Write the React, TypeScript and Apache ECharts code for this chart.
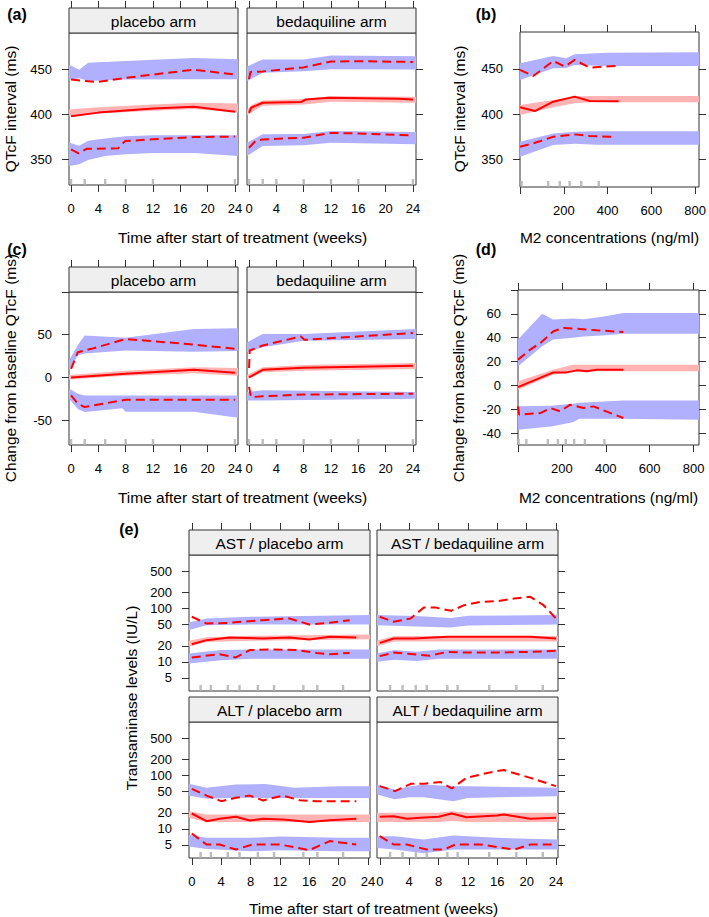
import React, { useEffect, useRef } from 'react';
import * as echarts from 'echarts';

const FONT = '"Liberation Sans", Arial, Helvetica, sans-serif';
const RED = '#ff0000';
const BLUE_BAND = '#b0b0ff';
const PINK_BAND = '#ffb3b3';
const RUG = '#bdbdbd';
const FRAME = '#333333';
const STRIP_BG = '#efefef';

// ---------- tick values ----------
const weekTicks = [0, 4, 8, 12, 16, 20, 24];
const concTicks = [0, 200, 400, 600, 800];
const concLabels = [200, 400, 600, 800];
const qtcTicks = [350, 400, 450];
const dqtcTicks = [-50, 0, 50, 100];
const dqtcLabels = [-50, 0, 50];
const dqtcConcTicks = [-40, -20, 0, 20, 40, 60, 80];
const dqtcConcLabels = [-40, -20, 0, 20, 40, 60];
const transTicks = [5, 10, 20, 50, 100, 200, 500];

// ---------- text ----------
const stripPlacebo = 'placebo arm';
const stripBeda = 'bedaquiline arm';
const stripASTp = 'AST / placebo arm';
const stripASTb = 'AST / bedaquiline arm';
const stripALTp = 'ALT / placebo arm';
const stripALTb = 'ALT / bedaquiline arm';
const xTitleTime = 'Time after start of treatment (weeks)';
const xTitleConc = 'M2 concentrations (ng/ml)';
const yTitleQtc = 'QTcF interval (ms)';
const yTitleDqtc = 'Change from baseline QTcF (ms)';
const yTitleTrans = 'Transaminase levels (IU/L)';

// ---------- (a) QTcF vs time ----------
const aP_obsMed = [[0, 398], [4, 402], [12, 406.5], [18, 408.5], [24, 403]];
const aP_obsHi = [[0, 438.5], [1.3, 437.5], [3.8, 435.7], [8, 440.4], [12, 444], [18, 449.5], [24, 444]];
const aP_obsLo = [[0, 361.5], [1.1, 357], [2.3, 362], [6.9, 362.5], [7.9, 370.5], [12, 372.5], [18, 375], [24, 375.5]];
const aP_bandMed = [[-0.3, 398, 405.5], [4, 401, 408], [12, 404, 411], [18, 406, 413], [24.45, 402, 412]];
const aP_bandHi = [[-0.3, 438, 455], [1.2, 440, 449.5], [2.5, 437, 457], [8, 438.5, 459], [18, 439, 462.5], [24.45, 439, 461]];
const aP_bandLo = [[-0.3, 343, 369], [1.2, 345, 365.5], [2.5, 349.5, 371], [5, 354, 373.5], [8, 356, 376], [12, 357.5, 377], [18, 357.5, 377], [24.45, 354, 377]];
const aB_obsMed = [[0, 401.8], [0.3, 407.4], [2, 412.9], [7.6, 413.6], [8.3, 416.5], [11.7, 418.4], [21.9, 417.3], [24, 416.5]];
const aB_obsHi = [[0, 439], [0.2, 447], [2, 447.5], [8, 452], [12, 458.5], [16, 458.8], [24, 458]];
const aB_obsLo = [[0, 363.2], [1, 371], [2, 372.4], [8, 374.3], [12, 379.5], [16, 379], [24, 376.8]];
const aB_bandMed = [[-0.3, 399, 405], [0.5, 403, 411], [2, 409.5, 415.5], [8, 411, 417], [12, 414, 420], [24.45, 413, 419.5]];
const aB_bandHi = [[-0.3, 436.8, 453], [2, 446, 460.7], [8, 447.8, 460.7], [12, 450, 465], [24.45, 449.6, 464.3]];
const aB_bandLo = [[-0.3, 354, 368.8], [2, 365, 378], [8, 366, 378.5], [12, 368.8, 381.6], [24.45, 367, 380.5]];
const rugWeeksP = [0, 2, 5, 8, 12, 24];
const rugWeeksB = [0, 2, 4, 8, 12, 16, 24];

// ---------- (b) QTcF vs M2 ----------
const b_obsMed = [[0, 407.4], [68, 403.3], [152, 413.7], [250, 419.3], [318, 414.4], [451, 414.1]];
const b_obsHi = [[0, 448.9], [61, 442.2], [152, 458.9], [205, 452.6], [250, 460], [318, 451.5], [436, 453.3]];
const b_obsLo = [[0, 363.7], [61, 367.4], [152, 374.8], [250, 377.4], [318, 375.6], [417, 374.8]];
const b_bandMed = [[0, 399, 410], [152, 407.5, 415.5], [250, 412, 419.3], [330, 413, 420], [818, 413, 420]];
const b_bandHi = [[0, 437.8, 456.3], [152, 450.7, 464.4], [210, 451, 462], [250, 454.4, 466.3], [400, 453.3, 468], [818, 453.3, 468.5]];
const b_bandLo = [[0, 352.6, 369.3], [152, 365.6, 378.5], [250, 367, 380.4], [350, 366, 381], [818, 366, 381]];
const b_rug = [7.6, 129, 182, 227, 280, 360];

// ---------- (c) dQTcF vs time ----------
const cP_obsMed = [[0, 0], [8, 4.3], [18, 9], [24, 5.4]];
const cP_obsHi = [[0, 10], [1, 29.6], [3, 33.5], [8, 45], [18, 38.5], [24, 33.5]];
const cP_obsLo = [[0, -21], [1, -30.7], [2, -34.6], [8, -26], [24, -26]];
const cP_bandMed = [[-0.3, -2.5, 3], [8, 2, 8], [18, 5, 12], [24.45, 2, 11]];
const cP_bandHi = [[-0.3, 8, 20], [1, 26, 38], [2, 28, 49], [8, 31.5, 46.5], [18, 30, 56.8], [24.45, 31, 57.6]];
const cP_bandLo = [[-0.3, -25, -13], [1, -37, -19], [2, -40.5, -21], [7.5, -36, -21], [8, -40, -21], [18, -40, -21], [24.45, -47, -21]];
const cB_obsMed = [[0, 0], [2, 9], [8, 11.3], [24, 13.6]];
const cB_obsHi = [[0, 11], [0.1, 31.5], [2, 37.4], [7.6, 47.9], [8.1, 44], [21.9, 51], [24, 52]];
const cB_obsLo = [[0, -11], [0.3, -23], [2, -22], [8, -20], [24, -19]];
const cB_bandMed = [[-0.3, -2, 3], [2, 6, 12], [8, 8, 14.5], [24.45, 10, 17]];
const cB_bandHi = [[-0.3, 29.6, 41], [2, 35.4, 51], [8, 43, 51], [24.45, 45, 56.8]];
const cB_bandLo = [[-0.3, -27, -17], [2, -27, -15], [24.45, -25, -17]];

// ---------- (d) dQTcF vs M2 ----------
const d_obsMed = [[0, -1.4], [117, 7.6], [162, 10.9], [223, 10.9], [268, 12.6], [314, 11.8], [359, 13.2], [480, 13.2]];
const d_obsHi = [[0, 21.6], [56, 30], [102, 35.6], [162, 45.4], [208, 48.2], [283, 47.3], [359, 46.2], [480, 44.8]];
const d_obsLo = [[0, -17.6], [5, -24.6], [56, -23.8], [102, -23.2], [147, -19], [192, -21.8], [238, -16.2], [298, -19], [344, -17.6], [480, -27.4]];
const d_bandMed = [[0, -3.6, 3.4], [160, 9, 13.2], [250, 11.8, 17.4], [825, 11.8, 17.4]];
const d_bandHi = [[0, 16, 38.4], [110, 32.8, 60], [160, 38.4, 55.2], [250, 40, 56], [300, 41, 55.5], [400, 42, 58], [480, 43.4, 60.8], [825, 43.4, 60.8]];
const d_bandLo = [[0, -37.3, -17.6], [150, -34.5, -17], [250, -31, -15.5], [280, -28, -14.5], [480, -28, -12.6], [825, -28.9, -12.6]];
const d_rug = [3, 38, 136, 182, 218, 256, 305, 394];

// ---------- (e) transaminases ----------
const eASTp_obsMed = [[0, 21.4], [2, 25.5], [5.1, 28.6], [9.7, 27.4], [13.3, 28.6], [16, 26.2], [18.8, 29.4], [22.4, 28.6]];
const eASTp_obsHi = [[0, 69.9], [2, 52.3], [5.1, 53.8], [9.7, 60.4], [13.3, 64.9], [16, 50.1], [18.8, 53.8], [21.5, 60.4]];
const eASTp_obsLo = [[0, 12.1], [3.8, 13.9], [6, 12.1], [7.9, 16.6], [11, 17.1], [14.2, 16.6], [17, 14.7], [18.8, 13.9], [21.5, 14.7]];
const eASTp_bandMed = [[-0.4, 19.1, 24.8], [2, 23.5, 29], [8, 24.8, 30.7], [24.27, 26.6, 32.6]];
const eASTp_bandHi = [[-0.4, 39.3, 54.6], [2, 48.7, 64.9], [8, 50, 70], [24.27, 50, 75]];
const eASTp_bandLo = [[-0.4, 9.3, 14.3], [4, 10.7, 16.6], [8, 11.5, 17.1], [24.27, 11.5, 17.1]];

const eASTb_obsMed = [[0, 22.7], [1.9, 27.4], [4.6, 27.4], [9.2, 29.4], [16, 29.4], [20.5, 29.4], [24, 27.4]];
const eASTb_obsHi = [[0, 69.9], [1.9, 56.2], [4.2, 64.9], [6, 104], [7.6, 104], [9.7, 90.2], [11.5, 115], [13.7, 133], [16, 137], [18.3, 153], [20.5, 165], [22.3, 115], [24, 64.9]];
const eASTb_obsLo = [[0, 12.8], [1.9, 14.9], [4.6, 13.9], [6.8, 13], [9.2, 15.4], [11.5, 14.9], [16, 14.9], [20.5, 15.4], [24, 16.1]];
const eASTb_bandMed = [[-0.38, 19.5, 25], [2, 24, 30.5], [24.27, 24, 30.5]];
const eASTb_bandHi = [[-0.38, 48.7, 75], [5, 46, 72], [9.7, 44, 66], [12, 48, 73], [24.27, 50, 75]];
const eASTb_bandLo = [[-0.38, 10, 14.3], [2, 11, 16.6], [5, 10.4, 15.4], [8, 11.5, 17], [24.27, 11.5, 17]];

const eALTp_obsMed = [[0, 19.4], [2, 13.9], [3.8, 15.4], [6, 16.8], [7.9, 14.3], [9.7, 15.4], [12.4, 14.9], [16, 13.4], [18.8, 14.5], [22.4, 15.4]];
const eALTp_obsHi = [[0, 56], [2, 42], [4, 33], [6, 38.1], [7.9, 42], [9.7, 34], [12.4, 42], [14.7, 34.4], [17, 33], [22.4, 33]];
const eALTp_obsLo = [[0, 8.2], [2, 5.1], [3.8, 5.1], [6, 4.1], [8.3, 5.1], [12, 5.1], [16, 4], [18.8, 5.9], [22.4, 5.1]];
const eALTp_bandMed = [[-0.4, 16.1, 21.4], [2, 13.4, 18.6], [24.27, 13.4, 18.6]];
const eALTp_bandHi = [[-0.4, 42, 69.8], [2, 36.5, 58.6], [6, 38.1, 67.8], [10, 38, 69], [14, 38, 58.6], [20, 38, 63], [24.27, 38, 63]];
const eALTp_bandLo = [[-0.4, 4.7, 7.8], [2, 4.2, 6.8], [8, 3.8, 6.8], [12, 4, 7.2], [20, 3.8, 6.8], [24.27, 3.8, 6.8]];

const eALTb_obsMed = [[0, 16.8], [1.9, 17.3], [3.7, 15.4], [5.5, 16.1], [8, 16.8], [9.8, 19.4], [11.8, 16.5], [15.9, 17.8], [16.9, 18.6], [20.5, 15.4], [24, 16.1]];
const eALTb_obsHi = [[0, 63], [2.1, 50.9], [4.2, 69.8], [6, 69.8], [8.3, 75], [9.8, 57], [11.8, 90], [13.7, 104], [15.9, 120], [16.9, 126], [20.5, 90], [24, 63]];
const eALTb_obsLo = [[0, 7.3], [1.9, 5.1], [3.7, 5.1], [6.4, 4.1], [8.7, 4.1], [10.3, 5.1], [13.7, 5.1], [18.3, 4.1], [20.5, 5.1], [24, 5.1]];
const eALTb_bandMed = [[-0.38, 13.4, 20], [8, 13.4, 20], [9.8, 14, 21.4], [12, 13.4, 20], [24.27, 13.4, 20]];
const eALTb_bandHi = [[-0.38, 44, 68], [2, 36, 54], [4, 39, 62], [6, 39, 68], [10, 33, 63], [12, 38, 63], [24.27, 41, 58.6]];
const eALTb_bandLo = [[-0.38, 4.4, 7.3], [2, 4.1, 7.3], [6, 3.5, 6.3], [10, 4.1, 7.5], [16, 4.1, 6.8], [24.27, 4.1, 6.3]];

const eRugP = [1.2, 2.6, 4.9, 6.5, 9, 11.2, 15.2, 17.1, 20.6];
const eRugB = [1.4, 3.1, 4.9, 6.4, 9.2, 10.6, 14.9, 18.6, 22.2];

// ---------- panel layout ----------
interface PanelCfg {
  rect: number[];
  x: number[];
  y: number[];
  xTicks: number[];
  xLabels: number[] | null;
  xBottomTicks: boolean;
  xTopTicks: boolean;
  yTicks: number[];
  yLabels: number[] | null;
  yLeftTicks: boolean;
  yRightTicks: boolean;
  strip?: string;
  log?: boolean;
  bandMed: number[][];
  bandHi: number[][];
  bandLo: number[][];
  obsMed: number[][];
  obsHi: number[][];
  obsLo: number[][];
  rug: number[];
}

const STRIP_H = 25;
const QTC_RANGE = [322, 490];
const WEEK_RANGE = [-0.3, 24.45];
const EWEEK_RANGE = [-0.38, 24.27];
const TRANS_RANGE = [2.85, 1000];

const panels: PanelCfg[] = [
  // (a)
  { rect: [69, 33, 169, 152], x: WEEK_RANGE, y: QTC_RANGE, xTicks: weekTicks, xLabels: weekTicks, xBottomTicks: true, xTopTicks: true,
    yTicks: qtcTicks, yLabels: qtcTicks, yLeftTicks: true, yRightTicks: false, strip: stripPlacebo,
    bandMed: aP_bandMed, bandHi: aP_bandHi, bandLo: aP_bandLo, obsMed: aP_obsMed, obsHi: aP_obsHi, obsLo: aP_obsLo, rug: rugWeeksP },
  { rect: [247, 33, 169, 152], x: WEEK_RANGE, y: QTC_RANGE, xTicks: weekTicks, xLabels: weekTicks, xBottomTicks: true, xTopTicks: true,
    yTicks: qtcTicks, yLabels: null, yLeftTicks: false, yRightTicks: true, strip: stripBeda,
    bandMed: aB_bandMed, bandHi: aB_bandHi, bandLo: aB_bandLo, obsMed: aB_obsMed, obsHi: aB_obsHi, obsLo: aB_obsLo, rug: rugWeeksB },
  // (b)
  { rect: [520, 32, 179, 155], x: [0, 818], y: [319, 491], xTicks: concTicks, xLabels: concLabels, xBottomTicks: true, xTopTicks: true,
    yTicks: qtcTicks, yLabels: qtcTicks, yLeftTicks: true, yRightTicks: true,
    bandMed: b_bandMed, bandHi: b_bandHi, bandLo: b_bandLo, obsMed: b_obsMed, obsHi: b_obsHi, obsLo: b_obsLo, rug: b_rug },
  // (c)
  { rect: [69, 292, 169, 153], x: WEEK_RANGE, y: [-79, 100], xTicks: weekTicks, xLabels: weekTicks, xBottomTicks: true, xTopTicks: true,
    yTicks: dqtcTicks, yLabels: dqtcLabels, yLeftTicks: true, yRightTicks: false, strip: stripPlacebo,
    bandMed: cP_bandMed, bandHi: cP_bandHi, bandLo: cP_bandLo, obsMed: cP_obsMed, obsHi: cP_obsHi, obsLo: cP_obsLo, rug: rugWeeksP },
  { rect: [247, 292, 169, 153], x: WEEK_RANGE, y: [-79, 100], xTicks: weekTicks, xLabels: weekTicks, xBottomTicks: true, xTopTicks: true,
    yTicks: dqtcTicks, yLabels: null, yLeftTicks: false, yRightTicks: true, strip: stripBeda,
    bandMed: cB_bandMed, bandHi: cB_bandHi, bandLo: cB_bandLo, obsMed: cB_obsMed, obsHi: cB_obsHi, obsLo: cB_obsLo, rug: rugWeeksB },
  // (d)
  { rect: [518, 290, 181, 155], x: [0, 825], y: [-50, 80], xTicks: concTicks, xLabels: concLabels, xBottomTicks: true, xTopTicks: true,
    yTicks: dqtcConcTicks, yLabels: dqtcConcLabels, yLeftTicks: true, yRightTicks: true,
    bandMed: d_bandMed, bandHi: d_bandHi, bandLo: d_bandLo, obsMed: d_obsMed, obsHi: d_obsHi, obsLo: d_obsLo, rug: d_rug },
  // (e) top row
  { rect: [189, 555, 181, 136], x: EWEEK_RANGE, y: TRANS_RANGE, log: true, xTicks: weekTicks, xLabels: null, xBottomTicks: false, xTopTicks: true,
    yTicks: transTicks, yLabels: transTicks, yLeftTicks: true, yRightTicks: false, strip: stripASTp,
    bandMed: eASTp_bandMed, bandHi: eASTp_bandHi, bandLo: eASTp_bandLo, obsMed: eASTp_obsMed, obsHi: eASTp_obsHi, obsLo: eASTp_obsLo, rug: eRugP },
  { rect: [377, 555, 181, 136], x: EWEEK_RANGE, y: TRANS_RANGE, log: true, xTicks: weekTicks, xLabels: null, xBottomTicks: false, xTopTicks: true,
    yTicks: transTicks, yLabels: null, yLeftTicks: false, yRightTicks: true, strip: stripASTb,
    bandMed: eASTb_bandMed, bandHi: eASTb_bandHi, bandLo: eASTb_bandLo, obsMed: eASTb_obsMed, obsHi: eASTb_obsHi, obsLo: eASTb_obsLo, rug: eRugB },
  // (e) bottom row
  { rect: [189, 722, 181, 136], x: EWEEK_RANGE, y: TRANS_RANGE, log: true, xTicks: weekTicks, xLabels: weekTicks, xBottomTicks: true, xTopTicks: false,
    yTicks: transTicks, yLabels: transTicks, yLeftTicks: true, yRightTicks: false, strip: stripALTp,
    bandMed: eALTp_bandMed, bandHi: eALTp_bandHi, bandLo: eALTp_bandLo, obsMed: eALTp_obsMed, obsHi: eALTp_obsHi, obsLo: eALTp_obsLo, rug: eRugP },
  { rect: [377, 722, 181, 136], x: EWEEK_RANGE, y: TRANS_RANGE, log: true, xTicks: weekTicks, xLabels: weekTicks, xBottomTicks: true, xTopTicks: false,
    yTicks: transTicks, yLabels: null, yLeftTicks: false, yRightTicks: true, strip: stripALTb,
    bandMed: eALTb_bandMed, bandHi: eALTb_bandHi, bandLo: eALTb_bandLo, obsMed: eALTb_obsMed, obsHi: eALTb_obsHi, obsLo: eALTb_obsLo, rug: eRugB },
];

function textEl(text: string, x: number, y: number, size: number, opts: { rot?: number; bold?: boolean } = {}) {
  return {
    type: 'text',
    x,
    y,
    rotation: opts.rot || 0,
    silent: true,
    z: 10,
    style: {
      text,
      fill: '#000',
      font: `${opts.bold ? 'bold ' : ''}${size}px ${FONT}`,
      align: 'center',
      verticalAlign: 'middle',
      textAlign: 'center',
      textVerticalAlign: 'middle',
    },
  };
}

function buildOption() {
  const grid: any[] = [];
  const xAxis: any[] = [];
  const yAxis: any[] = [];
  const series: any[] = [];
  const graphic: any[] = [];

  const tickStyle = { color: FRAME, width: 1 };
  const labelBase = { fontSize: 13, color: '#000', fontFamily: FONT };

  panels.forEach((p, i) => {
    const [left, top, width, height] = p.rect;
    const t = (v: number) => (p.log ? Math.log10(v) : v);
    const fmt = (v: number) => (p.log ? String(Math.round(Math.pow(10, v))) : String(v));

    grid.push({ left, top, width, height, show: true, borderColor: FRAME, borderWidth: 1, backgroundColor: 'transparent' });

    xAxis.push({
      type: 'value', gridIndex: i, position: 'bottom', min: p.x[0], max: p.x[1],
      axisLine: { show: false, onZero: false },
      axisTick: { show: p.xBottomTicks, length: 7, lineStyle: tickStyle, customValues: p.xTicks },
      axisLabel: { show: !!p.xLabels, customValues: p.xLabels || [], margin: 17, ...labelBase, formatter: (v: number) => String(v) },
      splitLine: { show: false },
    });
    xAxis.push({
      type: 'value', gridIndex: i, position: 'top', offset: p.strip ? STRIP_H : 0, min: p.x[0], max: p.x[1],
      axisLine: { show: false, onZero: false },
      axisTick: { show: p.xTopTicks, length: 7, lineStyle: tickStyle, customValues: p.xTicks },
      axisLabel: { show: false },
      splitLine: { show: false },
    });
    const yT = p.yTicks.map(t);
    yAxis.push({
      type: 'value', gridIndex: i, position: 'left', min: t(p.y[0]), max: t(p.y[1]),
      axisLine: { show: false, onZero: false },
      axisTick: { show: p.yLeftTicks, length: 7, lineStyle: tickStyle, customValues: yT },
      axisLabel: { show: !!p.yLabels, customValues: (p.yLabels || []).map(t), margin: 17, ...labelBase, formatter: fmt },
      splitLine: { show: false },
    });
    yAxis.push({
      type: 'value', gridIndex: i, position: 'right', min: t(p.y[0]), max: t(p.y[1]),
      axisLine: { show: false, onZero: false },
      axisTick: { show: p.yRightTicks, length: 7, lineStyle: tickStyle, customValues: yT },
      axisLabel: { show: false },
      splitLine: { show: false },
    });

    const xi = 2 * i;
    const yi = 2 * i;

    const band = (rows: number[][], color: string) => {
      const tr = rows.map((r) => [r[0], t(r[1]), t(r[2])]);
      return {
        type: 'custom', xAxisIndex: xi, yAxisIndex: yi, silent: true, z: 2,
        data: tr,
        renderItem: (params: any, api: any) => {
          if (params.dataIndex !== 0) return null;
          const upper = tr.map((r) => api.coord([r[0], r[2]]));
          const lower = tr.map((r) => api.coord([r[0], r[1]])).reverse();
          return { type: 'polygon', shape: { points: upper.concat(lower) }, style: { fill: color } };
        },
      };
    };
    series.push(band(p.bandHi, BLUE_BAND));
    series.push(band(p.bandLo, BLUE_BAND));
    series.push(band(p.bandMed, PINK_BAND));

    const line = (pts: number[][], dashed: boolean) => ({
      type: 'line', xAxisIndex: xi, yAxisIndex: yi, silent: true, z: 3,
      data: pts.map((q) => [q[0], t(q[1])]),
      showSymbol: false, symbol: 'none',
      lineStyle: { color: RED, width: 2, type: dashed ? [9, 5] : 'solid' },
    });
    series.push(line(p.obsMed, false));
    series.push(line(p.obsHi, true));
    series.push(line(p.obsLo, true));

    const yMin = t(p.y[0]);
    series.push({
      type: 'custom', xAxisIndex: xi, yAxisIndex: yi, silent: true, z: 4,
      data: p.rug.map((r) => [r, yMin]),
      renderItem: (params: any, api: any) => {
        const pt = api.coord([api.value(0), api.value(1)]);
        return { type: 'rect', shape: { x: pt[0] - 1.2, y: pt[1] - 6, width: 2.4, height: 5.5 }, style: { fill: RUG } };
      },
    });

    if (p.strip) {
      graphic.push({
        type: 'rect', silent: true, z: 5,
        shape: { x: left, y: top - STRIP_H, width, height: STRIP_H },
        style: { fill: STRIP_BG, stroke: FRAME, lineWidth: 1 },
      });
      graphic.push(textEl(p.strip, left + width / 2, top - STRIP_H / 2 + 0.5, 15.5));
    }
  });

  // axis titles
  graphic.push(textEl(xTitleTime, 242.5, 237, 15.5));
  graphic.push(textEl(xTitleConc, 609.5, 237, 15.5));
  graphic.push(textEl(xTitleTime, 242.5, 497, 15.5));
  graphic.push(textEl(xTitleConc, 608.5, 497, 15.5));
  graphic.push(textEl(xTitleTime, 373.5, 908, 15.5));
  graphic.push(textEl(yTitleQtc, 10, 109, 15.5, { rot: Math.PI / 2 }));
  graphic.push(textEl(yTitleQtc, 459, 109, 15.5, { rot: Math.PI / 2 }));
  graphic.push(textEl(yTitleDqtc, 10, 368, 15.5, { rot: Math.PI / 2 }));
  graphic.push(textEl(yTitleDqtc, 458, 368, 15.5, { rot: Math.PI / 2 }));
  graphic.push(textEl(yTitleTrans, 131, 698, 15.5, { rot: Math.PI / 2 }));

  // panel labels
  graphic.push(textEl('(a)', 17, 14, 16, { bold: true }));
  graphic.push(textEl('(b)', 486, 14, 16, { bold: true }));
  graphic.push(textEl('(c)', 17, 249, 16, { bold: true }));
  graphic.push(textEl('(d)', 486, 249, 16, { bold: true }));
  graphic.push(textEl('(e)', 129, 529, 16, { bold: true }));

  return {
    animation: false,
    backgroundColor: '#ffffff',
    textStyle: { fontFamily: FONT },
    grid,
    xAxis,
    yAxis,
    series,
    graphic,
  };
}

export default function App() {
  const ref = useRef<HTMLDivElement>(null);
  useEffect(() => {
    if (!ref.current) return;
    const chart = echarts.init(ref.current, null, { renderer: 'svg' });
    chart.setOption(buildOption() as any);
    return () => chart.dispose();
  }, []);
  return <div ref={ref} style={{ position: 'absolute', left: 0, top: 0, width: 709, height: 917 }} />;
}
